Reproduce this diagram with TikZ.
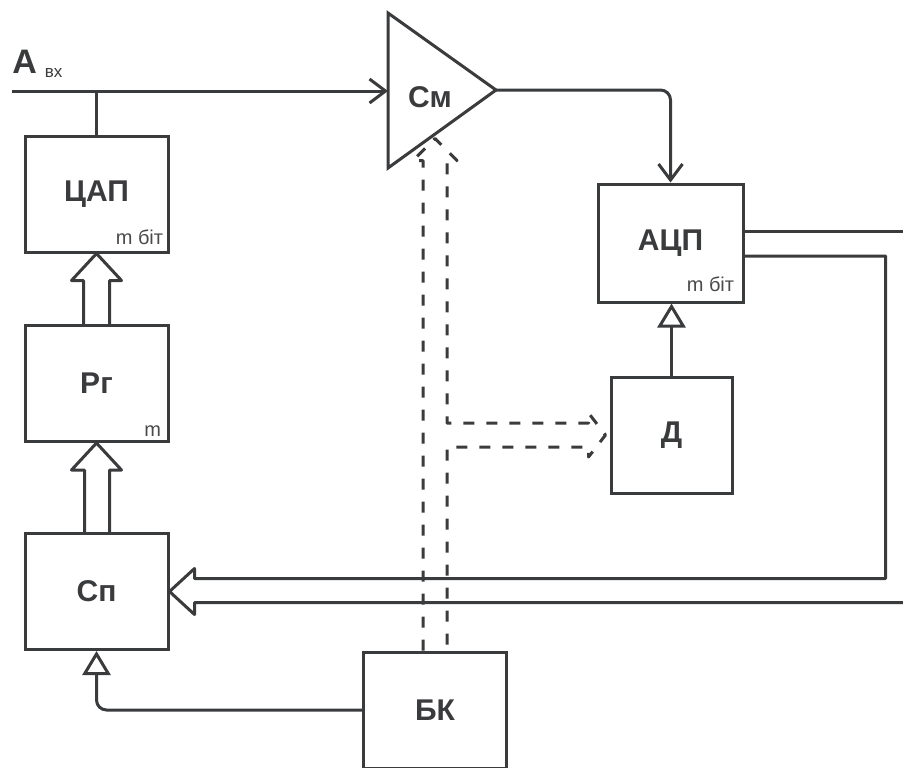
\documentclass[tikz,border=0pt]{standalone}
\usepackage{fontspec}
\setmainfont{Liberation Sans}
\usepackage{tikz}
\usetikzlibrary{arrows.meta, calc}
\usepackage{xcolor}
\definecolor{linegray}{HTML}{3A3B3D}
\definecolor{textgray}{HTML}{4A4A4C}

\tikzset{
  block/.style={draw=linegray, line width=1.5pt, fill=white, minimum width=71.5pt,
    minimum height=58pt, inner sep=0pt, text=linegray,
    font=\fontsize{15}{17}\selectfont\bfseries},
  wire/.style={draw=linegray, line width=1.5pt},
  bus/.style={draw=linegray, line width=1.5pt, line join=round},
  ctrlbus/.style={draw=linegray, line width=1.5pt, line join=round,
    dash pattern=on 5.5pt off 6pt},
  note/.style={inner sep=0pt, text=textgray, font=\fontsize{10}{11}\selectfont},
  openhead/.style={-{Triangle[open, length=12pt, width=14pt]}},
  barbhead/.style={-{Straight Barb[length=8pt, width=12pt]}}
}

\begin{document}
\begin{tikzpicture}[x=0.5pt, y=-0.5pt]
        \useasboundingbox (0,0) rectangle (903,767);
        % blocks
        \node[block] (dac) at (96.5,194) {ЦАП};
        \node[block] (reg) at (96.5,383.5) {Рг};
        \node[block] (sp) at (96.5,591.5) {Сп};
        \node[block, minimum width=72.5pt, minimum height=59pt] (adc) at (670.5,243) {АЦП};
        \node[block, minimum width=60.5pt] (det) at (671.5,435) {Д};
        \node[block] (bk) at (435,710) {БК};
        \node[note, anchor=base east] (dac-bits) at ($(dac.south east)+(-6,-9)$) {m біт};
        \node[note, anchor=base east] (reg-bits) at ($(reg.south east)+(-8,-7)$) {m};
        \node[note, anchor=base east] (adc-bits) at ($(adc.south east)+(-10,-12)$) {m біт};
        % adder corners
        \coordinate (sm-top) at (388,13);
        \coordinate (sm-out) at (496,90);
        \coordinate (sm-bot) at (388,168);
        \coordinate (sm-in) at (388,91);
        \coordinate (ain) at (12,91);
        % control bus from БК
        \draw[ctrlbus] ($(bk.north)+(-12,0)$) -- ++(0,-490) -- ++(-10,0) -- ++(22,-22)
          -- ++(22,22) -- ++(-10,0) |- ($(det.west)+(-21,-12)$) -- ++(0,-10)
          -- ($(det.west)+(-4,0)$) -- ++(-17,22) -- ++(0,-10) -| ($(bk.north)+(12,0)$);
        \draw[wire, fill=white, line join=miter] (sm-top) -- (sm-out) -- (sm-bot) -- cycle;
        \node[text=linegray, font=\fontsize{15}{17}\selectfont\bfseries] (sm) at (430,97) {См};
        % input
        \node[anchor=base west, inner sep=0pt, text=linegray] (ain-label) at ($(ain)+(0,-18)$)
          {\fontsize{17}{18}\selectfont\bfseries A\hspace{4pt}\raisebox{-2pt}{\fontsize{8.5}{9}\selectfont\mdseries вх}};
        \draw[wire, barbhead] (ain) -- (sm-in);
        \draw[wire] (dac.north) -- (dac.north |- ain);
        \draw[wire, barbhead, rounded corners=5pt] (sm-out) -| (adc.north);
        \draw[wire, openhead] (det.north) -- (det.north |- adc.south);
        \draw[wire, openhead, rounded corners=5pt] (bk.west) -| (sp.south);
        % wide buses
        \draw[bus] ($(reg.north)+(-13,0)$) -- ($(dac.south)+(-13,27)$) -- ($(dac.south)+(-25,27)$)
          -- (dac.south) -- ($(dac.south)+(25,27)$) -- ($(dac.south)+(13,27)$) -- ($(reg.north)+(13,0)$);
        \draw[bus] ($(sp.north)+(-12,0)$) -- ($(reg.south)+(-12,27)$) -- ($(reg.south)+(-25,27)$)
          -- (reg.south) -- ($(reg.south)+(25,27)$) -- ($(reg.south)+(13,27)$) -- ($(sp.north)+(13,0)$);
        \draw[bus] ($(adc.east)+(0,13)$) -| ($(sp.east)+(716,-13)$) -- ($(sp.east)+(25,-13)$)
          -- ($(sp.east)+(25,-23)$) -- (sp.east) -- ($(sp.east)+(25,23)$) -- ($(sp.east)+(25,11)$)
          -- ($(sp.east)+(735,11)$);
        \draw[wire] ($(adc.east)+(0,-12)$) -- ($(adc.east)+(161,-12)$);
      \end{tikzpicture}
\end{document}
